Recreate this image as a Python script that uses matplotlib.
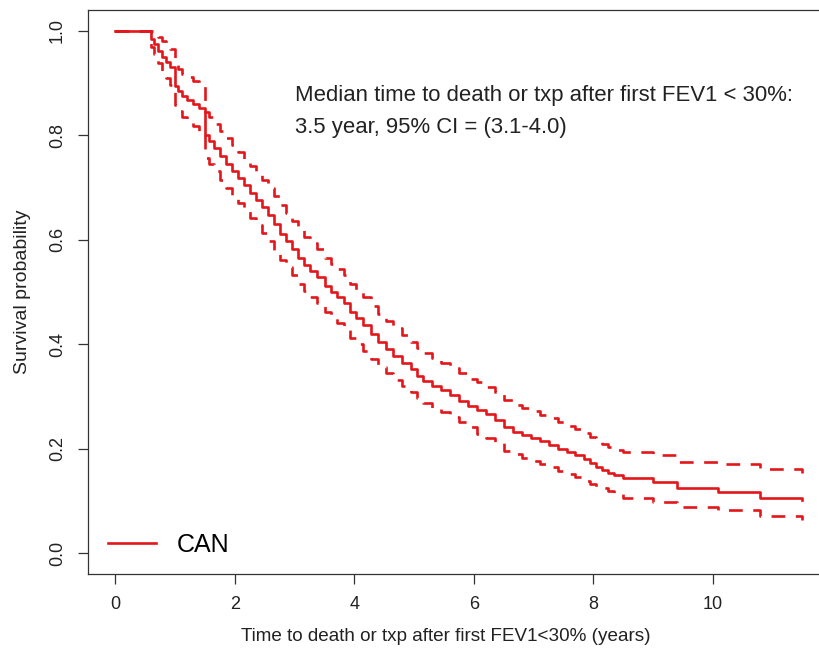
import numpy as np
import matplotlib.pyplot as plt

# tempi degli eventi (anni) e sopravvivenza stimata + limiti IC 95%
times = [0.00, 0.60, 0.65, 0.72, 0.78, 0.85, 0.92, 1.00, 1.05, 1.12, 1.20, 1.30, 1.40,
         1.50, 1.57, 1.65, 1.75, 1.85, 1.95, 2.05, 2.15, 2.25, 2.35, 2.45, 2.55,
         2.65, 2.75, 2.85, 2.95, 3.05, 3.15, 3.25, 3.38, 3.50, 3.60, 3.70, 3.82,
         3.92, 4.02, 4.15, 4.28, 4.40, 4.52, 4.65, 4.80, 4.95, 5.05, 5.15, 5.30,
         5.45, 5.60, 5.75, 5.90, 6.05, 6.20, 6.35, 6.50, 6.65, 6.80, 6.95, 7.10,
         7.25, 7.40, 7.55, 7.70, 7.85, 7.95, 8.05, 8.15, 8.25, 8.35, 8.50, 9.00,
         9.40, 10.08, 10.79, 11.49]

surv = [1.000, 0.985, 0.975, 0.962, 0.950, 0.940, 0.930, 0.895, 0.885, 0.875, 0.868, 0.860, 0.852,
        0.800, 0.790, 0.775, 0.760, 0.745, 0.732, 0.718, 0.705, 0.690, 0.676, 0.662, 0.648,
        0.630, 0.612, 0.597, 0.582, 0.566, 0.552, 0.540, 0.528, 0.512, 0.500, 0.490, 0.478,
        0.462, 0.450, 0.436, 0.420, 0.404, 0.390, 0.378, 0.365, 0.352, 0.340, 0.330, 0.320,
        0.312, 0.302, 0.292, 0.281, 0.275, 0.266, 0.255, 0.241, 0.232, 0.226, 0.220, 0.214,
        0.207, 0.200, 0.194, 0.188, 0.180, 0.172, 0.165, 0.160, 0.154, 0.149, 0.144, 0.137,
        0.125, 0.117, 0.106, 0.102]

upper = [1.000, 1.000, 0.995, 0.988, 0.980, 0.972, 0.965, 0.935, 0.927, 0.918, 0.912, 0.905, 0.898,
         0.845, 0.836, 0.822, 0.808, 0.794, 0.782, 0.768, 0.755, 0.741, 0.728, 0.714, 0.700,
         0.683, 0.666, 0.651, 0.636, 0.620, 0.606, 0.594, 0.582, 0.566, 0.554, 0.544, 0.532,
         0.516, 0.504, 0.490, 0.474, 0.458, 0.444, 0.432, 0.418, 0.405, 0.393, 0.383, 0.373,
         0.365, 0.355, 0.345, 0.334, 0.327, 0.318, 0.308, 0.293, 0.284, 0.278, 0.272, 0.265,
         0.258, 0.251, 0.244, 0.238, 0.230, 0.222, 0.214, 0.209, 0.203, 0.198, 0.193, 0.187,
         0.175, 0.170, 0.161, 0.154]

lower = [1.000, 0.970, 0.955, 0.938, 0.922, 0.910, 0.896, 0.858, 0.846, 0.835, 0.826, 0.817, 0.808,
         0.757, 0.746, 0.731, 0.715, 0.699, 0.685, 0.671, 0.657, 0.642, 0.628, 0.613, 0.598,
         0.580, 0.562, 0.547, 0.532, 0.516, 0.502, 0.490, 0.478, 0.462, 0.450, 0.440, 0.428,
         0.412, 0.400, 0.387, 0.372, 0.357, 0.344, 0.332, 0.320, 0.308, 0.297, 0.288, 0.278,
         0.270, 0.261, 0.252, 0.242, 0.228, 0.220, 0.210, 0.196, 0.189, 0.183, 0.177, 0.171,
         0.165, 0.158, 0.152, 0.146, 0.139, 0.133, 0.127, 0.124, 0.118, 0.113, 0.106, 0.098,
         0.089, 0.083, 0.071, 0.064]

xticks = [0, 2, 4, 6, 8, 10]
yticks = [0.0, 0.2, 0.4, 0.6, 0.8, 1.0]

rosso = '#e3161b'
plt.rcParams['font.family'] = ['Liberation Sans', 'DejaVu Sans']

fig = plt.figure(figsize=(8.2, 6.54), dpi=100)
ax = fig.add_axes([88/820, 80/654, 742/820, 564/654])

ax.step(times, surv, where='post', color=rosso, lw=1.9, label='CAN')
ax.step(times, upper, where='post', color=rosso, lw=1.9, dashes=(5.2, 4))
ax.step(times, lower, where='post', color=rosso, lw=1.9, dashes=(5.2, 4))

ax.set_xlim(-0.46, 11.96)
ax.set_ylim(-0.04, 1.04)
ax.set_xticks(xticks)
ax.set_xticklabels([str(v) for v in xticks])
ax.set_yticks(yticks)
ax.set_yticklabels(['%.1f' % v for v in yticks], rotation=90, va='center')

for s in ax.spines.values():
    s.set_color('#333333')
    s.set_linewidth(0.9)
ax.spines['right'].set_visible(False)  # fuori dall'immagine nell'originale
ax.tick_params(length=7, width=0.9, color='#333333', labelsize=13,
               labelcolor='#222222', pad=9)

ax.set_xlabel('Time to death or txp after first FEV1<30% (years)', fontsize=13.6,
              color='#222222', labelpad=13)
ax.xaxis.set_label_coords(0.482, -0.095)
ax.set_ylabel('Survival probability', fontsize=14, color='#222222', labelpad=13)

ax.text(3.0, 0.865, 'Median time to death or txp after first FEV1 < 30%:',
        fontsize=15.9, color='#222222', va='baseline')
ax.text(3.0, 0.805, '3.5 year, 95% CI = (3.1-4.0)',
        fontsize=15.9, color='#222222', va='baseline')

leg = ax.legend(loc='center left', bbox_to_anchor=(0.027, 0.051), frameon=False,
                fontsize=18, handlelength=1.9, handletextpad=0.85,
                borderpad=0, borderaxespad=0)
for l in leg.get_lines():
    l.set_linewidth(1.9)

fig.savefig('out.png', dpi=100)
